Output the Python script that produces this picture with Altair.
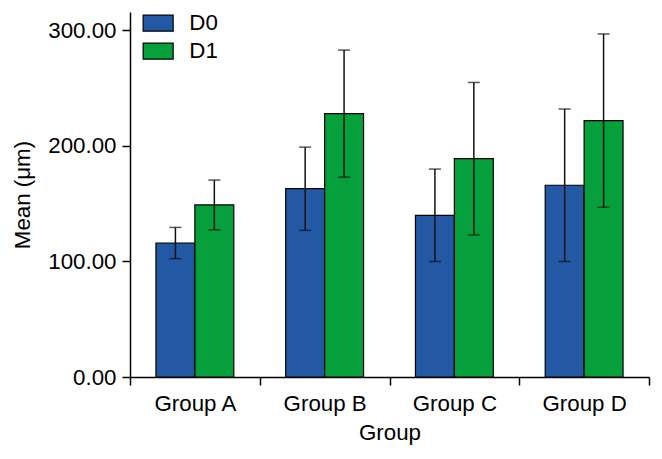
import altair as alt
import pandas as pd

groups = ["Group A", "Group B", "Group C", "Group D"]
series = ["D0", "D1"]
d0_mean = [116, 163, 140, 166]
d0_err = [13.5, 36, 40, 66]
d1_mean = [149, 228, 189, 222]
d1_err = [21.5, 55, 66, 75]
colors = ["#2358A5", "#05A03C"]

rows = []
for i, g in enumerate(groups):
    rows.append({"Group": g, "Series": "D0", "Mean": d0_mean[i],
                 "lo": d0_mean[i] - d0_err[i], "hi": d0_mean[i] + d0_err[i]})
    rows.append({"Group": g, "Series": "D1", "Mean": d1_mean[i],
                 "lo": d1_mean[i] - d1_err[i], "hi": d1_mean[i] + d1_err[i]})
df = pd.DataFrame(rows)

FONT = "Liberation Sans"
FS = 22.3

x = alt.X("Group:N", sort=groups, title="Group",
          scale=alt.Scale(paddingInner=0, paddingOuter=0),
          axis=alt.Axis(labelAngle=0, tickBand="extent", tickSize=8,
                        labelPadding=7, titlePadding=7, domainColor="black",
                        tickColor="black", domainWidth=1.5, tickWidth=1.5))
xo = alt.XOffset("Series:N", sort=series,
                 scale=alt.Scale(paddingOuter=0.667, paddingInner=0))

bars = alt.Chart(df).mark_bar(stroke="black", strokeWidth=1.2).encode(
    x=x, xOffset=xo,
    y=alt.Y("Mean:Q", title="Mean (μm)",
            scale=alt.Scale(domain=[0, 316], nice=False),
            axis=alt.Axis(values=[0, 100, 200, 300], format=".2f", tickSize=8,
                          labelPadding=6, titlePadding=13, grid=False,
                          domainColor="black", tickColor="black",
                          domainWidth=1.5, tickWidth=1.5)),
    color=alt.Color("Series:N", sort=series,
                    scale=alt.Scale(domain=series, range=colors),
                    legend=alt.Legend(title=None, orient="none", legendX=17, legendY=0,
                                      symbolType="M-1.875,-1H1.875V1H-1.875Z",
                                      symbolSize=256, symbolStrokeColor="black",
                                      symbolStrokeWidth=1.2, symbolOpacity=1,
                                      labelFontSize=FS, labelFont=FONT,
                                      labelOffset=20, rowPadding=5, padding=0)),
)

rules = alt.Chart(df).mark_rule(color="#111", strokeWidth=1.5).encode(
    x=alt.X("Group:N", sort=groups), xOffset=xo,
    y="lo:Q", y2="hi:Q")

caps_hi = alt.Chart(df).mark_tick(color="#111", thickness=1.5, size=12).encode(
    x=alt.X("Group:N", sort=groups), xOffset=xo, y="hi:Q")
caps_lo = alt.Chart(df).mark_tick(color="#111", thickness=1.5, size=12).encode(
    x=alt.X("Group:N", sort=groups), xOffset=xo, y="lo:Q")

chart = alt.layer(bars, rules, caps_hi, caps_lo).properties(
    width=519, height=365,
    autosize=alt.AutoSizeParams(type="none"),
    padding={"left": 122, "top": 4, "right": 5, "bottom": 70},
).configure_view(stroke=None).configure_axis(
    labelFont=FONT, titleFont=FONT, labelFontSize=FS, titleFontSize=FS,
    labelColor="black", titleColor="black", titleFontWeight="normal",
).configure_legend(labelColor="black")

chart.save("out.html", embed_options={"renderer": "svg", "actions": False})
